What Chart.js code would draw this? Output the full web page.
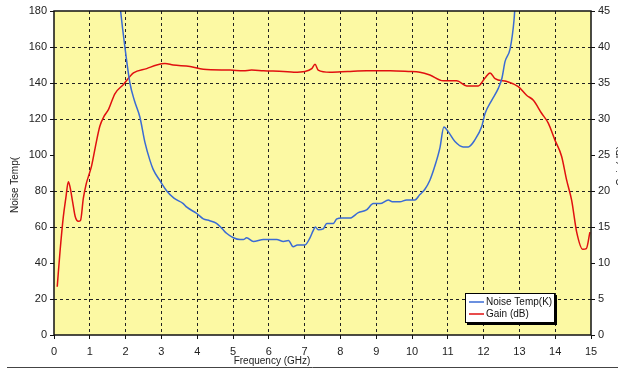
<!DOCTYPE html>
<html>
<head>
<meta charset="utf-8">
<script src="https://cdn.jsdelivr.net/npm/chart.js@4"></script>
<style>
  html, body { margin:0; padding:0; background:#fff; }
  #wrap { position:relative; width:618px; height:377px; }
</style>
</head>
<body>
<div id="wrap"><canvas id="noiseChart" width="618" height="377"></canvas></div>
<script>
// Data
const noiseFreq = [1.80,1.86,1.98,2.12,2.25,2.40,2.54,2.68,2.77,2.95,3.15,3.35,3.61,3.71,3.99,4.17,4.35,4.54,4.70,4.82,
  5.01,5.20,5.29,5.38,5.57,5.85,6.05,6.22,6.41,6.55,6.68,6.80,7.01,7.15,7.24,7.30,7.38,7.52,7.62,7.80,
  7.90,8.04,8.27,8.50,8.73,8.92,9.11,9.34,9.45,9.66,9.85,10.08,10.22,10.36,10.50,10.64,10.78,10.89,11.01,11.20,
  11.43,11.57,11.76,11.95,12.04,12.23,12.41,12.51,12.60,12.74,12.85,12.90];
const noiseTemp = [192,180,160,140,130,121,107,97,92,86,80,76,73,71,67.5,64.5,63.5,62,59,56.5,
  54,53,53,54,52,53,53,53,52,52.5,49,50,50,54,58,60,58.5,59,62,62,
  64.5,65,65,68,69.5,73,73,75,74,74,75,75,78,81,86,94,104,115.5,113,107.5,
  104.5,104.5,108.5,116,123,130.5,137,142.5,152,159,175,190];

const gainFreq = [0.09,0.17,0.26,0.33,0.40,0.45,0.52,0.59,0.68,0.74,0.82,0.90,0.96,1.05,1.15,1.28,1.40,1.52,1.70,1.94,
  2.22,2.59,2.87,3.10,3.33,3.80,4.17,4.92,5.29,5.52,5.85,6.41,6.70,7.01,7.20,7.29,7.38,7.71,8.20,8.73,
  9.39,9.90,10.22,10.50,10.87,11.25,11.53,11.85,12.04,12.18,12.32,12.65,12.97,13.20,13.39,13.62,13.81,13.99,14.18,14.32,
  14.46,14.60,14.77,14.87,14.97];
const gainDb = [6.7,11.7,16.4,19,21.3,20.5,18.5,16.5,15.8,15.9,19,21,22,23.5,26,29,30.4,31.3,33.5,34.8,
  36.4,37.0,37.5,37.7,37.5,37.3,36.9,36.8,36.7,36.8,36.7,36.6,36.5,36.6,37.0,37.6,36.8,36.5,36.6,36.7,
  36.7,36.6,36.5,36.1,35.3,35.3,34.6,34.6,35.7,36.4,35.6,35.2,34.5,33.3,32.6,30.8,29.4,27.1,24.8,21.5,
  18.7,14.3,11.9,12.0,14.3];

const seriesNames = ['Noise Temp(K)', 'Gain (dB)'];
const seriesColors = ['#3a6bd4', '#e01010'];

const FONT = "'Liberation Sans', Arial, sans-serif";
const noGridLeft = [0, 40, 100, 180];
const noGridX = [0, 15];

// frame, titles, legend
const decor = {
  id: 'decor',
  beforeDraw(chart) {
    const {ctx, chartArea:a} = chart;
    ctx.save();
    ctx.fillStyle = '#fcf9a3';
    ctx.fillRect(a.left, a.top, a.right - a.left, a.bottom - a.top);
    ctx.restore();
  },
  afterDraw(chart) {
    const {ctx, chartArea:a} = chart;
    ctx.save();
    ctx.strokeStyle = '#111';
    ctx.lineWidth = 1.5;
    ctx.strokeRect(a.left, a.top, a.right - a.left, a.bottom - a.top);

    ctx.fillStyle = '#222';
    ctx.font = '10px ' + FONT;
    ctx.textAlign = 'center';
    ctx.textBaseline = 'middle';
    ctx.fillText('Frequency (GHz)', 272, 361);

    ctx.save();
    ctx.translate(15, 185);
    ctx.rotate(-Math.PI / 2);
    ctx.fillText('Noise Temp(', 0, 0);
    ctx.restore();

    ctx.save();
    ctx.translate(621, 166);
    ctx.rotate(-Math.PI / 2);
    ctx.fillText('Gain(dB)', 0, 0);
    ctx.restore();

    // bottom rule
    ctx.strokeStyle = '#444';
    ctx.lineWidth = 1;
    ctx.beginPath();
    ctx.moveTo(7, 367.5);
    ctx.lineTo(618, 367.5);
    ctx.stroke();

    // legend
    const lx = 465, ly = 293, lw = 90, lh = 30;
    ctx.fillStyle = '#000';
    ctx.fillRect(lx + 2, ly + 2, lw, lh);
    ctx.fillStyle = '#fff';
    ctx.fillRect(lx, ly, lw, lh);
    ctx.strokeStyle = '#000';
    ctx.lineWidth = 1;
    ctx.strokeRect(lx + 0.5, ly + 0.5, lw - 1, lh - 1);
    ctx.textAlign = 'left';
    ctx.font = '10px ' + FONT;
    seriesNames.forEach((name, i) => {
      const y = ly + 9 + i * 12;
      ctx.strokeStyle = seriesColors[i];
      ctx.lineWidth = 1.5;
      ctx.beginPath();
      ctx.moveTo(lx + 4, y);
      ctx.lineTo(lx + 19, y);
      ctx.stroke();
      ctx.fillStyle = '#111';
      ctx.fillText(name, lx + 21, y);
    });
    ctx.restore();
  }
};

const dash = [3, 3];

new Chart(document.getElementById('noiseChart'), {
  type: 'line',
  data: {
    datasets: [
      {
        label: seriesNames[0],
        data: noiseFreq.map((f, i) => ({x: f, y: noiseTemp[i]})),
        borderColor: seriesColors[0],
        borderWidth: 1.5,
        pointRadius: 0,
        cubicInterpolationMode: 'monotone',
        yAxisID: 'y'
      },
      {
        label: seriesNames[1],
        data: gainFreq.map((f, i) => ({x: f, y: gainDb[i]})),
        borderColor: seriesColors[1],
        borderWidth: 1.5,
        pointRadius: 0,
        cubicInterpolationMode: 'monotone',
        yAxisID: 'y2'
      }
    ]
  },
  options: {
    responsive: false,
    animation: false,
    layout: {padding: {top: 11, left: 0, right: 0, bottom: 0}},
    plugins: {legend: {display: false}, tooltip: {enabled: false}},
    scales: {
      x: {
        type: 'linear', min: 0, max: 15,
        ticks: {stepSize: 1, color: '#222', font: {family: FONT, size: 11}, padding: 6, maxRotation: 0},
        grid: {
          color: c => noGridX.includes(c.tick.value) ? 'rgba(0,0,0,0)' : '#222',
          lineWidth: 1, tickLength: 4, tickColor: '#111', tickBorderDash: []
        },
        border: {display: false, dash: dash},
        afterFit: s => { s.height = 42; }
      },
      y: {
        position: 'left', min: 0, max: 180,
        ticks: {stepSize: 20, color: '#222', font: {family: FONT, size: 11}, padding: 3},
        grid: {
          color: c => noGridLeft.includes(c.tick.value) ? 'rgba(0,0,0,0)' : '#222',
          lineWidth: 1, tickLength: 4, tickColor: '#111', tickBorderDash: []
        },
        border: {display: false, dash: dash},
        afterFit: s => { s.width = 54; }
      },
      y2: {
        position: 'right', min: 0, max: 45,
        ticks: {stepSize: 5, color: '#222', font: {family: FONT, size: 11}, padding: 3},
        grid: {drawOnChartArea: false, tickLength: 4, tickColor: '#111'},
        border: {display: false},
        afterFit: s => { s.width = 27; }
      }
    }
  },
  plugins: [decor]
});
</script>
</body>
</html>
